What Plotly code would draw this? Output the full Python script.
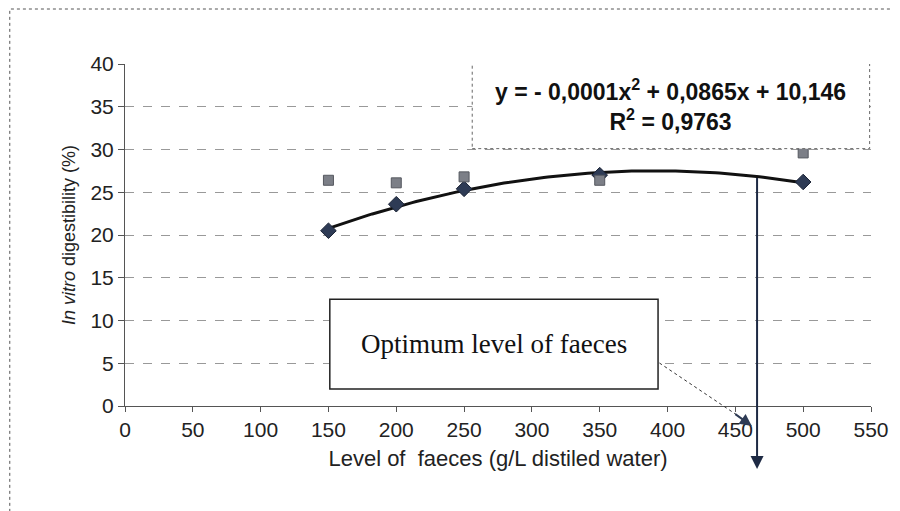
import numpy as np
import plotly.graph_objects as go

# Data
faeces_levels = [150, 200, 250, 350, 500]
digest_series1 = [20.5, 23.6, 25.4, 27.0, 26.2]   # diamonds (fitted)
digest_series2 = [26.4, 26.1, 26.8, 26.4, 29.6]   # squares
x_ticks = list(range(0, 551, 50))
y_ticks = list(range(0, 41, 5))
optimum_level = 466
equation_text = "y = - 0,0001x<sup>2</sup> + 0,0865x + 10,146<br>R<sup>2</sup> = 0,9763"

OFF = 7  # page offset of the figure inside the browser
W, H = 893, 504
ML, MR, MT, MB = 117, 25, 56, 106
PW, PH = W - ML - MR, H - MT - MB

def px(xs):
    return (xs - OFF - ML) / PW

def py(ys):
    return (H - MB - (ys - OFF)) / PH

# quadratic trendline (fit of series 1)
coef = np.polyfit(faeces_levels, digest_series1, 2)
xs = np.linspace(150, 500, 120)
ys = np.polyval(coef, xs)

fig = go.Figure()
fig.add_trace(go.Scatter(x=xs, y=ys, mode="lines",
                         line=dict(color="#111111", width=3), hoverinfo="skip", showlegend=False))
fig.add_trace(go.Scatter(x=faeces_levels, y=digest_series1, mode="markers",
                         marker=dict(symbol="diamond", size=12, color="#2e3b55",
                                     line=dict(color="#1b2335", width=1)), showlegend=False))
fig.add_trace(go.Scatter(x=faeces_levels, y=digest_series2, mode="markers",
                         marker=dict(symbol="square", size=10, color="#7c7f87",
                                     line=dict(color="#55585f", width=1)), showlegend=False))

shapes = []
# outer dotted frame
shapes.append(dict(type="rect", xref="paper", yref="paper",
                   x0=px(8), x1=px(898), y0=py(530), y1=py(8),
                   line=dict(color="#555555", width=1, dash="dot")))
# equation box
shapes.append(dict(type="rect", xref="x", yref="y", x0=256, x1=549, y0=30.1, y1=40.4,
                   fillcolor="white", line=dict(color="#666666", width=1, dash="dot"), layer="above"))
# optimum box
shapes.append(dict(type="rect", xref="x", yref="y", x0=151, x1=393, y0=2.0, y1=12.5,
                   fillcolor="white", line=dict(color="#222222", width=1.5), layer="above"))
# dotted connector
shapes.append(dict(type="line", xref="paper", yref="paper",
                   x0=px(662), y0=py(362), x1=px(740), y1=py(414),
                   line=dict(color="#333333", width=1, dash="dot")))

# vertical arrow from curve down below axis
y_opt = float(np.polyval(coef, optimum_level))
x_opt_paper = optimum_level / 550
y_opt_paper = y_opt / 40
head_paper_y = py(468)
ay_px = -(y_opt_paper - head_paper_y) * PH

annotations = [
    dict(x=x_opt_paper, y=head_paper_y, xref="paper", yref="paper",
         ax=0, ay=ay_px, axref="pixel", ayref="pixel", showarrow=True,
         arrowhead=2, arrowsize=1.3, arrowwidth=2, arrowcolor="#1e2a44", text=""),
    dict(x=px(755), y=py(425), xref="paper", yref="paper",
         ax=-18, ay=-13, showarrow=True, arrowhead=2, arrowsize=1.2, arrowwidth=2,
         arrowcolor="#2e3b55", text=""),
    dict(x=402.5, y=35.2, xref="x", yref="y", text="<b>" + equation_text + "</b>",
         showarrow=False, align="center",
         font=dict(family="Liberation Sans, Arial", size=23, color="#111111")),
    dict(x=272, y=7.3, xref="x", yref="y", text="Optimum level of faeces",
         showarrow=False, font=dict(family="Liberation Serif, Times New Roman", size=27, color="#111111")),
]

fig.update_layout(
    width=W, height=H, margin=dict(l=ML, r=MR, t=MT, b=MB),
    paper_bgcolor="white", plot_bgcolor="white",
    shapes=shapes, annotations=annotations,
    font=dict(family="Liberation Sans, Arial", color="#222222"),
    showlegend=False,
)
fig.update_xaxes(range=[0, 550], tickvals=x_ticks, showgrid=False, zeroline=False,
                 showline=True, linecolor="#555555", linewidth=1,
                 ticks="outside", ticklen=5, tickcolor="#555555",
                 tickfont=dict(size=21, color="#222222"),
                 title=dict(text="Level of  faeces (g/L distiled water)", font=dict(size=22, color="#222222"), standoff=10))
fig.update_yaxes(range=[0, 40], tickvals=y_ticks, showgrid=True, gridcolor="#999999", griddash="dash",
                 gridwidth=1, zeroline=False,
                 showline=True, linecolor="#555555", linewidth=1,
                 ticks="outside", ticklen=6, tickcolor="#555555",
                 tickfont=dict(size=21, color="#222222"),
                 title=dict(text="<i>In vitro</i> digestibility (%)", font=dict(size=18, color="#222222"), standoff=10))

fig.write_html("out.html")
